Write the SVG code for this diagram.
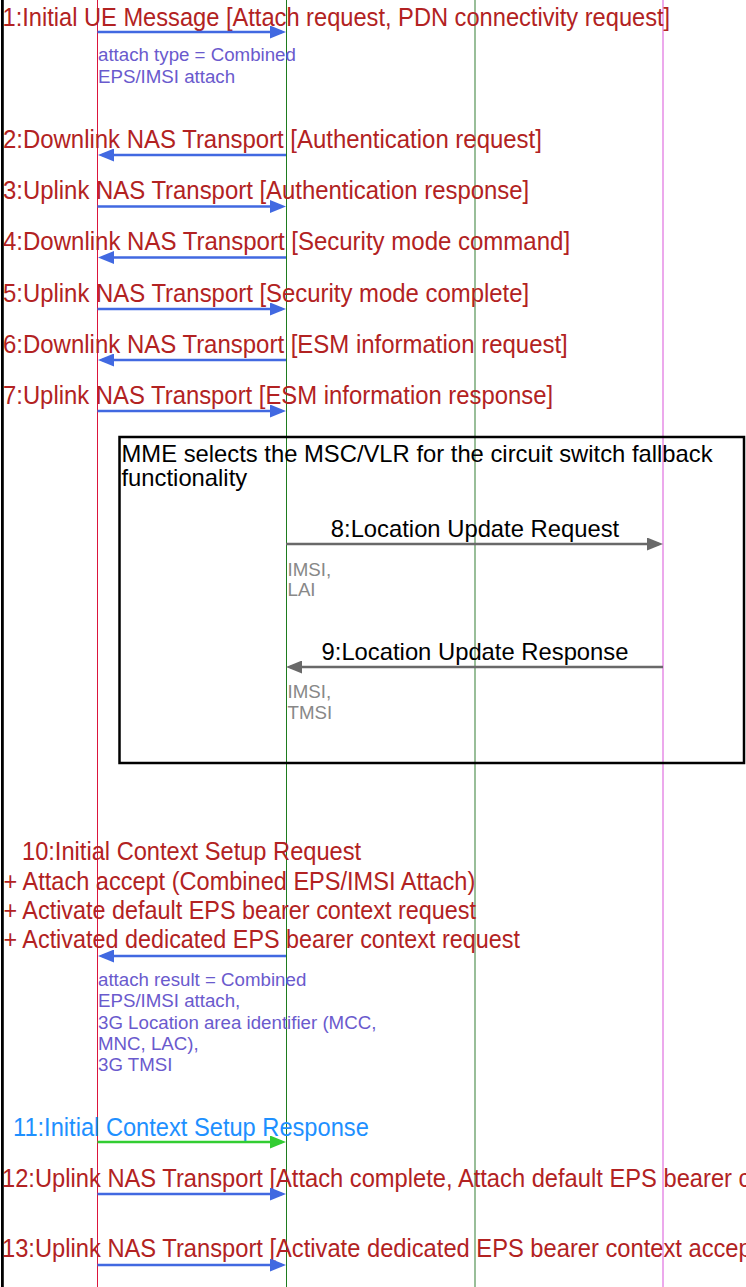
<svg xmlns="http://www.w3.org/2000/svg" width="746" height="1287" viewBox="0 0 746 1287">
  <defs>
    <marker id="head-blue" viewBox="0 0 16 13" refX="12" refY="6.5" markerWidth="16" markerHeight="13" markerUnits="userSpaceOnUse" orient="auto">
      <path d="M0,0 L16,6.5 L0,13 Z" fill="#4169e1"/>
    </marker>
    <marker id="head-green" viewBox="0 0 16 13" refX="12" refY="6.5" markerWidth="16" markerHeight="13" markerUnits="userSpaceOnUse" orient="auto">
      <path d="M0,0 L16,6.5 L0,13 Z" fill="#32cd32"/>
    </marker>
    <marker id="head-gray" viewBox="0 0 16 13" refX="12" refY="6.5" markerWidth="16" markerHeight="13" markerUnits="userSpaceOnUse" orient="auto">
      <path d="M0,0 L16,6.5 L0,13 Z" fill="#696969"/>
    </marker>
  </defs>
  <style>
    text { font-family: "Liberation Sans", Arial, sans-serif; }
    .msg { font-size: 26px; fill: #b22222; }
    .msg-black { font-size: 23.8px; fill: #000000; }
    .msg-blue { font-size: 26px; fill: #1e90ff; }
    .note { font-size: 18.7px; fill: #6a5acd; }
    .note-gray { font-size: 18.7px; fill: #888888; }
    .life { fill: none; }
    .arrow-blue { stroke: #4169e1; stroke-width: 2.6; fill: none; marker-end: url(#head-blue); }
    .arrow-green { stroke: #32cd32; stroke-width: 2.6; fill: none; marker-end: url(#head-green); }
    .arrow-gray { stroke: #696969; stroke-width: 2.6; fill: none; marker-end: url(#head-gray); }
  </style>

  <rect width="746" height="1287" fill="#ffffff"/>

  <!-- left frame edge -->
  <line x1="2.4" y1="0" x2="2.4" y2="1287" stroke="#000000" stroke-width="2.8"/>

  <!-- lifelines -->
  <g id="ue">
    <line class="life" x1="97.5" y1="0" x2="97.5" y2="1287" stroke="#dc143c" stroke-width="1"/>
  </g>
  <g id="enodeb">
    <line class="life" x1="286.5" y1="0" x2="286.5" y2="1287" stroke="#1e7b1e" stroke-width="1"/>
  </g>
  <g id="mme">
    <line class="life" x1="475" y1="0" x2="475" y2="1287" stroke="#7fae7f" stroke-width="1.6"/>
  </g>
  <g id="msc-vlr">
    <line class="life" x1="663" y1="0" x2="663" y2="1287" stroke="#e070e0" stroke-width="1.2"/>
  </g>

  <!-- combined fragment: MSC/VLR selection -->
  <g id="csfb-block">
    <rect x="119.5" y="437" width="624.5" height="326" fill="none" stroke="#000000" stroke-width="2.5"/>
    <text class="msg-black" x="121.5" y="461.7">MME selects the MSC/VLR for the circuit switch fallback</text>
    <text class="msg-black" x="121.5" y="486.2">functionality</text>
  </g>

  <!-- message labels (narrow-set red captions) -->
  <g id="labels">
    <text class="msg" transform="translate(2.5 25.5) scale(0.91 1)">1:Initial UE Message [Attach request, PDN connectivity request]</text>
    <text class="note" x="98" y="61">attach type = Combined</text>
    <text class="note" x="98" y="82.5">EPS/IMSI attach</text>

    <text class="msg" transform="translate(3 147.5) scale(0.921 1)">2:Downlink NAS Transport [Authentication request]</text>
    <text class="msg" transform="translate(3 199) scale(0.92 1)">3:Uplink NAS Transport [Authentication response]</text>
    <text class="msg" transform="translate(3 250) scale(0.924 1)">4:Downlink NAS Transport [Security mode command]</text>
    <text class="msg" transform="translate(3 301.5) scale(0.92 1)">5:Uplink NAS Transport [Security mode complete]</text>
    <text class="msg" transform="translate(3 352.5) scale(0.922 1)">6:Downlink NAS Transport [ESM information request]</text>
    <text class="msg" transform="translate(3 403.5) scale(0.918 1)">7:Uplink NAS Transport [ESM information response]</text>

    <text class="msg-black" x="475" y="536.5" text-anchor="middle">8:Location Update Request</text>
    <text class="note-gray" x="287.5" y="575.5">IMSI,</text>
    <text class="note-gray" x="287.5" y="596">LAI</text>

    <text class="msg-black" x="475" y="659.5" text-anchor="middle">9:Location Update Response</text>
    <text class="note-gray" x="287.5" y="698">IMSI,</text>
    <text class="note-gray" x="287.5" y="718.5">TMSI</text>

    <text class="msg" transform="translate(22 860) scale(0.91 1)">10:Initial Context Setup Request</text>
    <text class="msg" transform="translate(3.5 889.5) scale(0.906 1)">+ Attach accept (Combined EPS/IMSI Attach)</text>
    <text class="msg" transform="translate(3.5 918.8) scale(0.9 1)">+ Activate default EPS bearer context request</text>
    <text class="msg" transform="translate(3.5 948) scale(0.899 1)">+ Activated dedicated EPS bearer context request</text>
    <text class="note" x="98" y="985.5">attach result = Combined</text>
    <text class="note" x="98" y="1007">EPS/IMSI attach,</text>
    <text class="note" x="98" y="1028.5">3G Location area identifier (MCC,</text>
    <text class="note" x="98" y="1050">MNC, LAC),</text>
    <text class="note" x="98" y="1071">3G TMSI</text>

    <text class="msg-blue" transform="translate(13 1135.5) scale(0.91 1)">11:Initial Context Setup Response</text>
    <text class="msg" transform="translate(2 1186.5) scale(0.912 1)">12:Uplink NAS Transport [Attach complete, Attach default EPS bearer context accept]</text>
    <text class="msg" transform="translate(2 1257) scale(0.912 1)">13:Uplink NAS Transport [Activate dedicated EPS bearer context accept]</text>
  </g>

  <!-- message arrows -->
  <g id="connectors">
    <line class="arrow-blue" x1="97.5" y1="32" x2="282" y2="32"/>
    <line class="arrow-blue" x1="286" y1="155" x2="102" y2="155"/>
    <line class="arrow-blue" x1="97.5" y1="206.5" x2="282" y2="206.5"/>
    <line class="arrow-blue" x1="286" y1="257.5" x2="102" y2="257.5"/>
    <line class="arrow-blue" x1="97.5" y1="309" x2="282" y2="309"/>
    <line class="arrow-blue" x1="286" y1="360" x2="102" y2="360"/>
    <line class="arrow-blue" x1="97.5" y1="411" x2="282" y2="411"/>
    <line class="arrow-gray" x1="286" y1="544" x2="659" y2="544"/>
    <line class="arrow-gray" x1="663" y1="667" x2="290" y2="667"/>
    <line class="arrow-blue" x1="286" y1="956" x2="102" y2="956"/>
    <line class="arrow-green" x1="97.5" y1="1142" x2="282" y2="1142"/>
    <line class="arrow-blue" x1="97.5" y1="1194" x2="282" y2="1194"/>
    <line class="arrow-blue" x1="97.5" y1="1265" x2="282" y2="1265"/>
  </g>
</svg>
